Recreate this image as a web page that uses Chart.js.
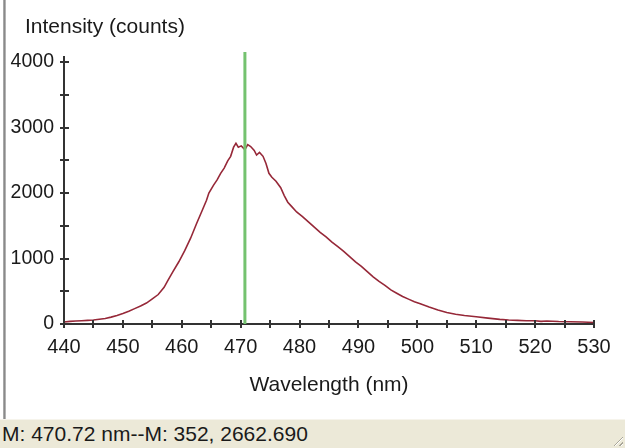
<!DOCTYPE html>
<html>
<head>
<meta charset="utf-8">
<script src="https://cdn.jsdelivr.net/npm/chart.js@4/dist/chart.umd.min.js"></script>
<style>
  html, body { margin: 0; padding: 0; background: #fff; }
  body { width: 625px; height: 448px; position: relative; overflow: hidden; font-family: "Liberation Sans", Arial, sans-serif; }
  #plot { position: absolute; left: 0; top: 0; width: 625px; height: 420px; background: #fff; }
  #edge { position: absolute; left: 3px; top: 0; width: 3px; height: 419px; background: linear-gradient(to right, #b8b8b8, #8a8a8a, #c8c8c8); }
  #status { position: absolute; left: 0; top: 419px; width: 625px; height: 29px; background: #ece9d8; border-top: 1px solid #f6f4ec; box-sizing: border-box; }
  #statusText { position: absolute; left: 2px; top: 2px; font-size: 21px; color: #1a1a1a; white-space: nowrap; }
  #grip { position: absolute; right: 2px; bottom: 2px; width: 12px; height: 12px;
    background: repeating-linear-gradient(135deg, transparent 0 2px, #a9a698 2px 3px, #fff 3px 4px); clip-path: polygon(100% 0, 100% 100%, 0 100%); }
  canvas { display: block; }
</style>
</head>
<body>
<div id="plot"><canvas id="chart" width="625" height="420"></canvas></div>
<div id="edge"></div>
<div id="status"><span id="statusText"></span><div id="grip"></div></div>
<script>
// Emission spectrum: wavelength (nm) and detector intensity (counts)
const wavelengths = [
  440, 441, 442, 443, 444, 445, 446, 447, 448, 449,
  450, 451, 452, 453, 454, 455, 456, 457, 457.6, 458.5,
  459.5, 460.5, 461.5, 462.5, 463.5, 464.2, 464.6, 465.4, 466.0, 466.6,
  467.2, 467.8, 468.3, 468.8, 469.2, 469.6, 470.1, 470.72, 471.2, 471.7,
  472.3, 472.7, 473.2, 473.8, 474.3, 474.8, 475.3, 476.0, 476.8, 477.4,
  478.0, 478.6, 479.5, 480.5, 481.5, 482.5, 483.5, 484.5, 485.5, 486.5,
  487.5, 488.5, 489.5, 490.5, 491.5, 492.5, 493.5, 494.5, 495.5, 496.5,
  497.5, 498.5, 499.5, 500.5, 502, 503.5, 505, 506.5, 508, 510,
  512, 514, 515.5, 517, 518.5, 520, 521, 522, 524, 526,
  528, 530
];
const counts = [
  30, 40, 45, 50, 55, 60, 72, 85, 105, 130,
  160, 195, 235, 275, 320, 385, 450, 560, 660, 800,
  950, 1120, 1310, 1530, 1740, 1890, 2000, 2120, 2200, 2300,
  2380, 2490, 2560, 2700, 2760, 2700, 2720, 2662.69, 2740, 2710,
  2650, 2580, 2620, 2560, 2450, 2300, 2240, 2180, 2080, 1960,
  1860, 1800, 1710, 1640, 1560, 1480, 1400, 1330, 1250, 1180,
  1110, 1030, 950, 880, 800, 720, 650, 590, 520, 470,
  420, 380, 340, 310, 260, 215, 175, 150, 130, 110,
  90, 70, 60, 55, 50, 50, 40, 45, 38, 35,
  30, 22
];

// Cursor marker readout
const markerWavelength = 470.72;
const markerIndex = 352;
const markerCount = 2662.690;

// Axis ranges and tick spacing
const xRange = [440, 530];
const xMajorStep = 10;
const xMinorStep = 5;
const yRange = [0, 4000];
const yMajorStep = 1000;
const yMinorStep = 500;

const yTitle = 'Intensity (counts)';
const xTitle = 'Wavelength (nm)';

document.getElementById('statusText').textContent =
  'M: ' + markerWavelength.toFixed(2) + ' nm--M: ' + markerIndex + ', ' + markerCount.toFixed(3);

const FONT = '"Liberation Sans", Arial, sans-serif';

const points = wavelengths.map((w, i) => ({ x: w, y: counts[i] }));

// Draws cross ticks on both axes, the marker line and the y-axis heading
const decorations = {
  id: 'decorations',
  afterDraw(chart) {
    const { ctx, chartArea, scales } = chart;
    const xs = scales.x, ys = scales.y;
    ctx.save();

    // marker line
    const mx = xs.getPixelForValue(markerWavelength);
    ctx.strokeStyle = '#74c26f';
    ctx.lineWidth = 3;
    ctx.beginPath();
    ctx.moveTo(mx, chartArea.top - 10);
    ctx.lineTo(mx, chartArea.bottom);
    ctx.stroke();

    // axis extension above the top tick
    ctx.strokeStyle = '#333';
    ctx.lineWidth = 2;
    ctx.beginPath();
    ctx.moveTo(chartArea.left, chartArea.top - 6);
    ctx.lineTo(chartArea.left, chartArea.top);
    ctx.stroke();

    // ticks crossing the axes
    ctx.lineWidth = 2;
    ctx.beginPath();
    for (let v = yRange[0]; v <= yRange[1]; v += yMinorStep) {
      const py = Math.round(ys.getPixelForValue(v));
      ctx.moveTo(chartArea.left - 4, py);
      ctx.lineTo(chartArea.left + 5, py);
    }
    for (let v = xRange[0]; v <= xRange[1]; v += xMinorStep) {
      const px = Math.round(xs.getPixelForValue(v));
      ctx.moveTo(px, chartArea.bottom - 4);
      ctx.lineTo(px, chartArea.bottom + 4);
    }
    ctx.stroke();

    // y heading
    ctx.fillStyle = '#1a1a1a';
    ctx.font = '21px ' + FONT;
    ctx.textBaseline = 'middle';
    ctx.textAlign = 'left';
    ctx.fillText(yTitle, 25, 27);
    ctx.restore();
  }
};

new Chart(document.getElementById('chart'), {
  type: 'line',
  data: {
    datasets: [{
      data: points,
      borderColor: '#962838',
      borderWidth: 1.6,
      pointRadius: 0,
      tension: 0,
      fill: false
    }]
  },
  options: {
    responsive: false,
    animation: false,
    events: [],
    layout: { padding: { top: 62, right: 31, left: 0, bottom: 0 } },
    plugins: { legend: { display: false }, tooltip: { enabled: false }, title: { display: false } },
    scales: {
      x: {
        type: 'linear',
        min: xRange[0], max: xRange[1],
        grid: { display: false, drawTicks: false },
        border: { display: true, color: '#333', width: 2 },
        ticks: { stepSize: xMajorStep, padding: 11, color: '#1a1a1a', font: { family: FONT, size: 20 },
                 callback: v => String(v) },
        title: { display: true, text: xTitle, color: '#1a1a1a', font: { family: FONT, size: 21 }, padding: { top: 0, bottom: 22 } },
        afterFit(scale) { scale.height = 96; }
      },
      y: {
        min: yRange[0], max: yRange[1],
        grid: { display: false, drawTicks: false },
        border: { display: true, color: '#333', width: 2 },
        ticks: { stepSize: yMajorStep, padding: 10, color: '#1a1a1a', font: { family: FONT, size: 19.5 },
                 callback: v => String(v) },
        afterFit(scale) { scale.width = 64; }
      }
    }
  },
  plugins: [decorations]
});
</script>
</body>
</html>
